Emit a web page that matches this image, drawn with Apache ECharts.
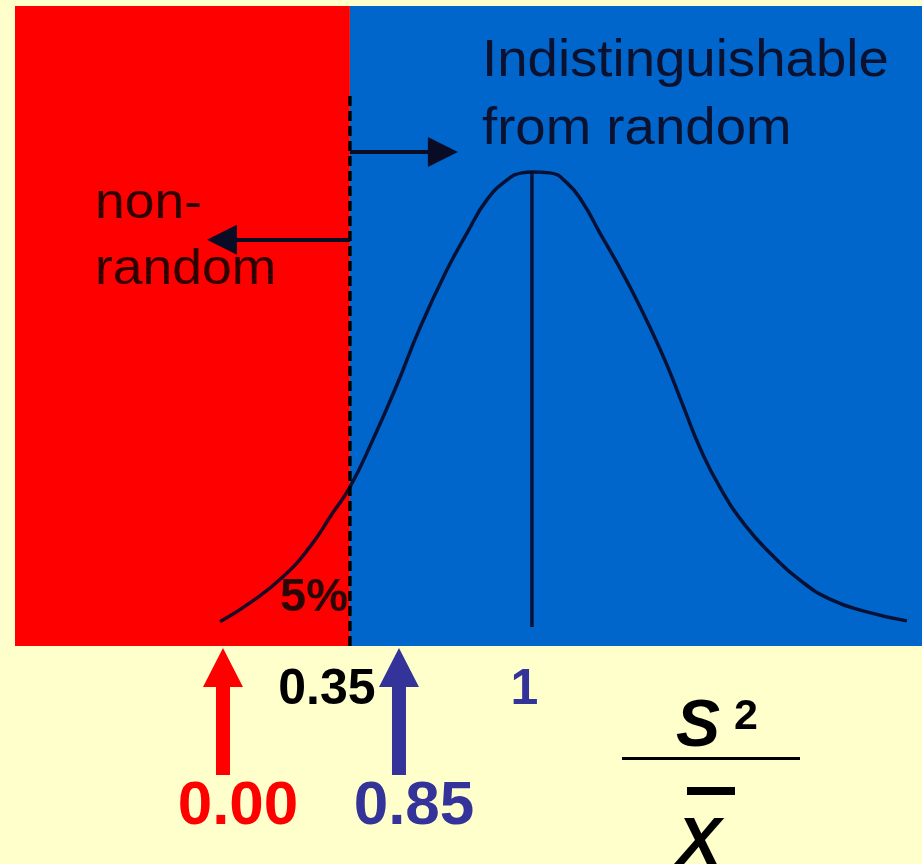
<!DOCTYPE html>
<html>
<head>
<meta charset="utf-8">
<script src="https://cdn.jsdelivr.net/npm/echarts@6/dist/echarts.min.js"></script>
<style>
  html, body { margin: 0; padding: 0; background: #FFFFCC; }
  #chart { width: 922px; height: 864px; }
</style>
</head>
<body>
<div id="chart"></div>
<script>
// Sampling distribution of the variance-to-mean ratio S²/x̄ (schematic bell curve)
const curveX = [-0.114, -0.007, 0.111, 0.207, 0.289, 0.350, 0.432, 0.518, 0.600, 0.696,
                0.768, 0.839, 0.911, 0.964, 1.000, 1.064, 1.125, 1.182, 1.243, 1.304,
                1.361, 1.421, 1.482, 1.539, 1.600, 1.671, 1.761, 1.861, 1.957, 2.064,
                2.196, 2.339];
const curveY = [0.051, 0.091, 0.146, 0.209, 0.281, 0.335, 0.435, 0.551, 0.671, 0.793,
                0.871, 0.941, 0.983, 0.998, 1.000, 0.998, 0.977, 0.935, 0.871, 0.808,
                0.745, 0.673, 0.593, 0.508, 0.418, 0.335, 0.255, 0.190, 0.139, 0.099,
                0.072, 0.053];

const criticalValue = 0.35;   // lower 5% cut-off
const expectedValue = 1;      // ratio expected under randomness
const tickValues = [0.35, 1];
const tickLabels = ['0.35', '1'];
const tailLabel = '5%';

const observedValues = [0.00, 0.85];
const observedLabels = ['0.00', '0.85'];
const observedColors = ['#FF0000', '#333399'];

const FONT = '"Liberation Sans", Arial, Helvetica, sans-serif';
const X_MIN = -0.846, X_MAX = 2.393;       // distribution axis extent
const OBS_MIN = -1.0045, OBS_MAX = 3.376;  // observed-value axis extent

const curveData = curveX.map((x, i) => [x, curveY[i]]);
const peakY = Math.max(...curveY);

const chart = echarts.init(document.getElementById('chart'), null, { renderer: 'canvas' });

const option = {
  backgroundColor: '#FFFFCC',
  animation: false,
  grid: { left: 15, right: 0, top: 6, bottom: 218, containLabel: false },
  xAxis: [
    {
      type: 'value', gridIndex: 0, min: X_MIN, max: X_MAX,
      axisLine: { show: false }, axisTick: { show: false }, splitLine: { show: false },
      axisLabel: {
        show: true,
        customValues: tickValues,
        margin: 19,
        formatter: v => {
          const i = tickValues.indexOf(v);
          return '{t' + i + '|' + tickLabels[i] + '}';
        },
        rich: {
          t0: { fontFamily: FONT, fontWeight: 'bold', fontSize: 50, lineHeight: 50, color: '#000000', padding: [0, 46, 0, 0] },
          t1: { fontFamily: FONT, fontWeight: 'bold', fontSize: 50, lineHeight: 50, color: '#333399', padding: [0, 15, 0, 0] }
        }
      }
    },
    { type: 'value', gridIndex: 0, min: OBS_MIN, max: OBS_MAX, show: false }
  ],
  yAxis: [{ type: 'value', min: 0, max: 1.35, show: false }],
  series: [
    {
      // rejection (red) and acceptance (blue) regions
      name: 'regions', type: 'line', data: [], z: 1, silent: true,
      markArea: {
        silent: true,
        data: [
          [{ xAxis: X_MIN, itemStyle: { color: '#FF0000' } }, { xAxis: criticalValue }],
          [{ xAxis: criticalValue, itemStyle: { color: '#0066CC' } }, { xAxis: X_MAX }]
        ]
      }
    },
    {
      name: 'distribution', type: 'line', data: curveData, z: 3,
      smooth: 0.5, showSymbol: false, silent: true,
      lineStyle: { color: 'rgba(8,10,40,0.92)', width: 3.5 }
    },
    {
      name: 'expected', type: 'line', z: 3, silent: true, showSymbol: false,
      data: [[expectedValue, 0.04], [expectedValue, peakY]],
      lineStyle: { color: 'rgba(8,10,40,0.92)', width: 3.5 }
    },
    {
      name: 'critical', type: 'line', z: 4, silent: true, showSymbol: false,
      data: [[criticalValue, 0], [criticalValue, 1.162]],
      lineStyle: { color: '#000000', width: 3.5, type: [10, 5] },
      markLine: {
        silent: true,
        symbol: ['none', 'triangle'],
        symbolSize: 30,
        label: { show: false },
        lineStyle: { color: '#0a0c26', width: 4, type: 'solid' },
        data: [
          [{ coord: [criticalValue, 1.042] }, { coord: [0.682, 1.042] }],
          [{ coord: [criticalValue, 0.857] }, { coord: [-0.107, 0.857] }]
        ]
      }
    },
    {
      // observed ratios marked beneath the plot
      name: 'observed', type: 'custom', xAxisIndex: 1, yAxisIndex: 0, z: 5,
      clip: false, silent: true,
      data: observedValues.map(v => [v]),
      encode: { x: 0 },
      renderItem: (params, api) => {
        const v = api.value(0);
        const p = api.coord([v, 0]);
        const cx = p[0], by = p[1];
        const color = observedColors[params.dataIndex];
        return {
          type: 'group',
          children: [
            {
              type: 'polygon',
              shape: { points: [[cx, by + 2], [cx + 20, by + 41], [cx + 7, by + 41], [cx + 7, by + 129],
                                [cx - 7, by + 129], [cx - 7, by + 41], [cx - 20, by + 41]] },
              style: { fill: color }
            },
            {
              type: 'text', x: cx + 15, y: by + 161,
              style: { text: observedLabels[params.dataIndex], font: 'bold 62px ' + FONT,
                       fill: color, align: 'center', verticalAlign: 'middle' }
            }
          ]
        };
      }
    }
  ],
  graphic: [
    { type: 'text', x: 482, y: 61.5, scaleX: 1.05, z: 100, silent: true,
      style: { text: 'Indistinguishable', font: '52px ' + FONT, fill: '#0a1230', align: 'left', verticalAlign: 'middle' } },
    { type: 'text', x: 482, y: 129.5, scaleX: 1.05, z: 100, silent: true,
      style: { text: 'from random', font: '52px ' + FONT, fill: '#0a1230', align: 'left', verticalAlign: 'middle' } },
    { type: 'text', x: 95, y: 204, scaleX: 1.07, z: 100, silent: true,
      style: { text: 'non-', font: '50px ' + FONT, fill: '#2e0000', align: 'left', verticalAlign: 'middle' } },
    { type: 'text', x: 95, y: 270, scaleX: 1.07, z: 100, silent: true,
      style: { text: 'random', font: '50px ' + FONT, fill: '#2e0000', align: 'left', verticalAlign: 'middle' } },
    { type: 'text', x: 280, y: 598, z: 100, silent: true,
      style: { text: tailLabel, font: 'bold 47px ' + FONT, fill: '#2a0606', align: 'left', verticalAlign: 'middle' } },
    // S² over x-bar
    { type: 'text', x: 676, y: 728, z: 100, silent: true,
      style: { text: 'S', font: 'italic bold 66px ' + FONT, fill: '#000000', align: 'left', verticalAlign: 'middle' } },
    { type: 'text', x: 734, y: 717.5, z: 100, silent: true,
      style: { text: '2', font: 'bold 43px ' + FONT, fill: '#000000', align: 'left', verticalAlign: 'middle' } },
    { type: 'rect', z: 100, shape: { x: 622, y: 757, width: 178, height: 3 }, style: { fill: '#000000' }, silent: true },
    { type: 'rect', z: 100, shape: { x: 687, y: 787, width: 48, height: 8 }, style: { fill: '#000000' }, silent: true },
    { type: 'text', x: 677, y: 845.5, z: 100, silent: true,
      style: { text: 'X', font: 'italic bold 66px ' + FONT, fill: '#000000', align: 'left', verticalAlign: 'middle' } }
  ]
};

chart.setOption(option);
</script>
</body>
</html>
